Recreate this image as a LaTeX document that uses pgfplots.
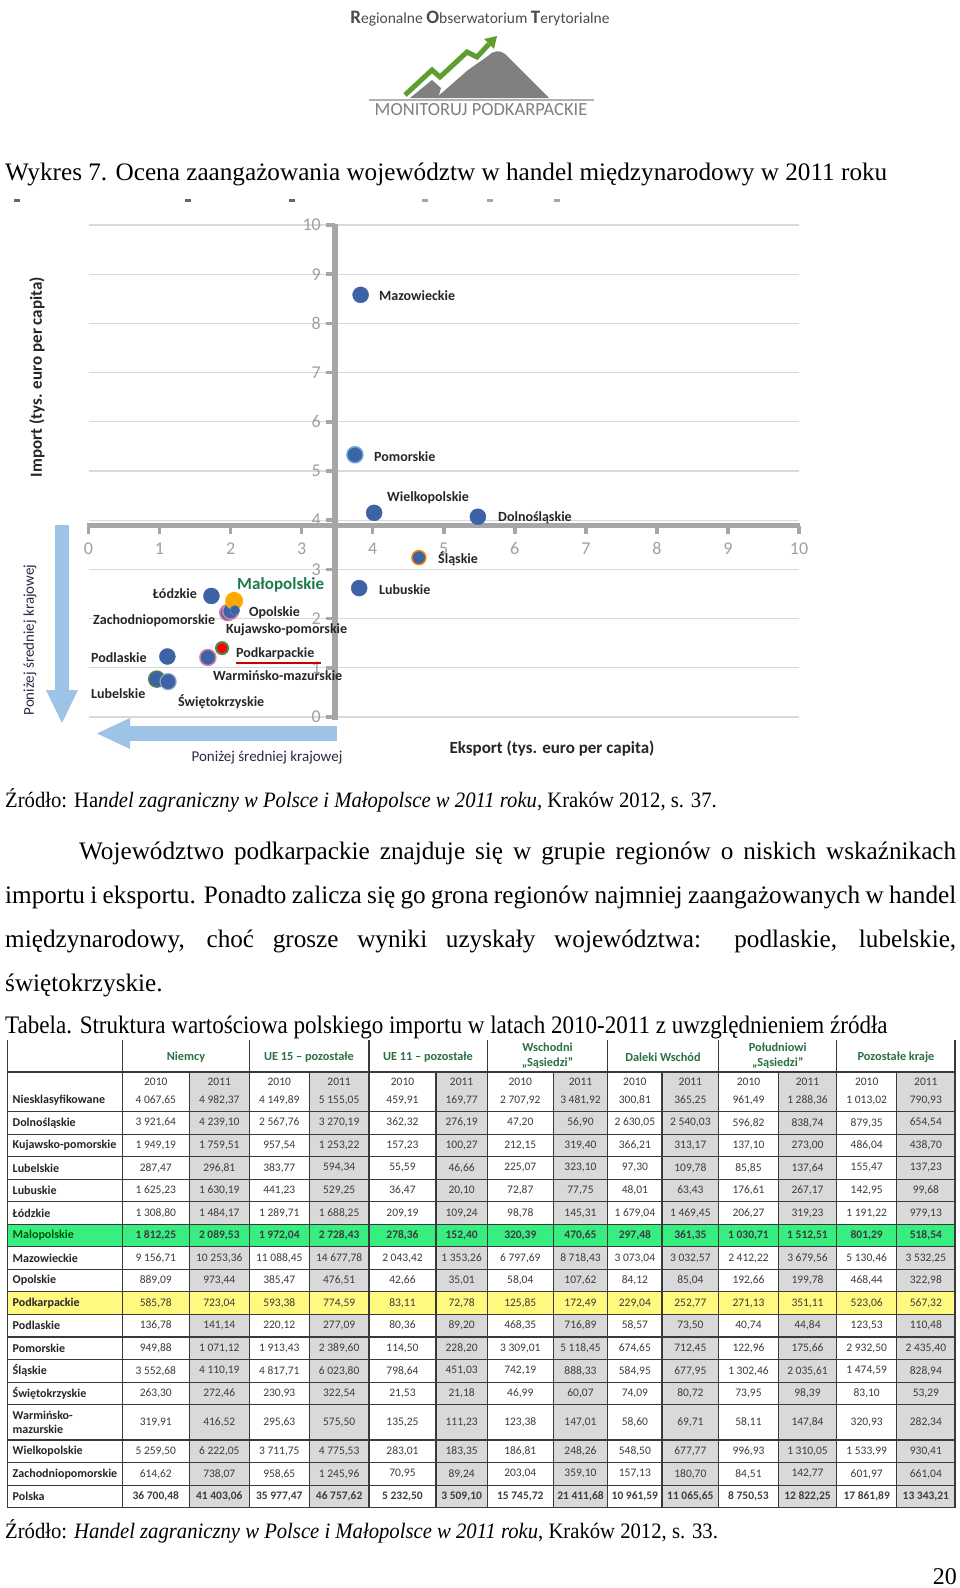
\documentclass[border=0pt]{standalone}
\usepackage{pgfplots}
\pgfplotsset{compat=1.18}
\usepackage{fontspec}
\setmainfont{Liberation Serif}
\newfontfamily\calfont{Carlito}
\newfontfamily\condserif[FakeStretch=0.915]{Liberation Serif}
\newfontfamily\srcserif[FakeStretch=0.94]{Liberation Serif}
\definecolor{ptblue}{HTML}{3B63A5}
\definecolor{gridgray}{HTML}{D9D9D9}
\definecolor{axgray}{HTML}{A6A6A6}
\definecolor{ticklab}{HTML}{A0A0A0}
\definecolor{arrowblue}{HTML}{9DC3E6}
\definecolor{mgreen}{HTML}{1F7A4A}
\definecolor{hdrgreen}{HTML}{2A7040}
\definecolor{rowgreen}{HTML}{38EE80}
\definecolor{rowyellow}{HTML}{FFF980}
\definecolor{cellgray}{HTML}{D9D9D9}
\definecolor{rulecol}{HTML}{3A3A3A}
\definecolor{numcol}{HTML}{3C3C3C}
\definecolor{labcol}{HTML}{262626}
\definecolor{logogray}{HTML}{808080}
\definecolor{logogreen}{HTML}{5E9E2E}
\definecolor{navytext}{HTML}{2A2A45}

\def\colb{{7.3,122.3,189.3,249.3,309.3,369,436,487.3,553.3,607.7,662,718.7,778.3,836.7,896.7,955}}
\newcommand\colcenter[1]{%
  \pgfmathsetmacro\xa{\colb[#1]}%
  \pgfmathsetmacro\xb{\colb[#1+1]}%
  \pgfmathsetmacro\cx{0.5*\xa+0.5*\xb}%
}

\newcommand\trow[6]{%
  \node[anchor=west, inner sep=0, align=left, text=#6,
        font=\calfont\bfseries\fontsize{12}{13.5}\selectfont] at (12.5,{-(#1+#2)/2}) {#3};
  \foreach \vv [count=\cc] in {#4} {%
    \colcenter{\cc}%
    \node[inner sep=0, text=numcol, font=\calfont\fontsize{11.5}{13}\selectfont#5] at (\cx,{-(#1+#2)/2}) {\vv};
  }%
}

\begin{document}
\begin{tikzpicture}[x=1pt,y=1pt]
\fill[white] (0,0) rectangle (960,-1588);
\path[use as bounding box] (0,0) rectangle (960,-1588);

% ---------- logo ----------
\node[text=black!70, font=\calfont\fontsize{15.5}{16}\selectfont] at (480,-19)
  {{\bfseries\fontsize{19}{19}\selectfont R}egionalne {\bfseries\fontsize{19}{19}\selectfont O}bserwatorium {\bfseries\fontsize{19}{19}\selectfont T}erytorialne};
\fill[logogray] (436,-98) -- (468,-70) -- (488,-56) .. controls (494,-50) and (500,-50) .. (505,-54) -- (525,-74) -- (549,-98) -- cycle;
\fill[logogray] (410,-98) -- (432,-80) -- (441,-88) -- (438,-98) -- cycle;
\draw[white, line width=8pt, line join=round] (405,-95) -- (432,-70) -- (440,-77) -- (467,-52) -- (477,-57) -- (490,-43);
\draw[logogreen, line width=5pt, line join=miter] (405,-95) -- (432,-70) -- (440,-77) -- (467,-52) -- (477,-57) -- (489,-44);
\fill[logogreen] (497,-36) -- (484,-39) -- (494,-49) -- cycle;
\draw[black!30, line width=2.5pt] (369,-100) -- (594,-100);
\node[text=logogray, font=\calfont\fontsize{18.5}{18.5}\selectfont] at (481,-110) {MONITORUJ PODKARPACKIE};

% ---------- caption ----------
\node[anchor=base west, inner sep=0, font=\fontsize{25.2}{30}\selectfont] at (5,-180)
  {Wykres 7. Ocena zaangażowania województw w handel międzynarodowy w 2011 roku};

\foreach \xx in {17,188,292} {\fill[black!60] (\xx-3,-199) rectangle (\xx+3,-202);}
\foreach \xx in {425,490,557} {\fill[black!35] (\xx-3,-199) rectangle (\xx+3,-201.5);}

% ---------- chart ----------
\begin{axis}[at={(88.5pt,-717pt)}, anchor=south west, scale only axis,
  width=710.5pt, height=492pt, xmin=0, xmax=10, ymin=0, ymax=10,
  axis line style={draw=none}, xtick=\empty, ytick={0,1,...,10}, yticklabels={},
  major tick length=0pt, ymajorgrids, grid style={line width=1.3pt, gridgray}, clip=false]
\draw[axgray, line width=6pt] (axis cs:3.47,-0.06) -- (axis cs:3.47,10.02);
\draw[axgray, line width=5.5pt] (axis cs:-0.02,3.89) -- (axis cs:10.02,3.89);
\pgfplotsinvokeforeach{0,...,10}{
  \draw[axgray, line width=3.5pt] (axis cs:3.47,#1) -- ++(-9pt,0pt);
  \draw[axgray, line width=3.5pt] (axis cs:#1,3.89) -- ++(0pt,-8pt);
  \node[anchor=east, inner sep=0, text=ticklab, font=\calfont\fontsize{18}{18}\selectfont] at ([xshift=-14pt]axis cs:3.47,#1) {#1};
  \node[inner sep=0, text=ticklab, font=\calfont\fontsize{18}{18}\selectfont] at ([yshift=-23pt]axis cs:#1,3.89) {#1};
}
\addplot[only marks, mark=*, mark size=8pt, mark options={fill=ptblue, draw=black!45!green!40!gray, line width=1.5pt}] coordinates {(0.96,0.77)};
\addplot[only marks, mark=*, mark size=8pt, mark options={fill=ptblue, draw=ptblue!60, line width=1.2pt}] coordinates {(1.12,0.72)};
\addplot[only marks, mark=*, mark size=8pt, mark options={fill=ptblue, draw=ptblue}] coordinates {
 (3.83,8.58) (4.02,4.15) (5.48,4.07) (3.81,2.62) (1.73,2.46) (1.11,1.23)};
\addplot[only marks, mark=*, mark size=8pt, mark options={fill=ptblue, draw=cyan!60!blue!60, line width=1.5pt}] coordinates {(3.75,5.33)};
\addplot[only marks, mark=*, mark size=7pt, mark options={fill=ptblue, draw=orange, line width=1.5pt}] coordinates {(4.65,3.24)};
\addplot[only marks, mark=*, mark size=8pt, mark options={fill=ptblue, draw=red!40!violet!50, line width=1.5pt}] coordinates {(1.68,1.21) (1.96,2.12) (2.00,2.15)};
\addplot[only marks, mark=*, mark size=8.5pt, mark options={fill=orange!70!yellow, draw=orange!60!yellow, line width=1pt}] coordinates {(2.05,2.36)};
\addplot[only marks, mark=*, mark size=5pt, mark options={fill=ptblue, draw=ptblue!70}] coordinates {(2.06,2.17)};
\addplot[only marks, mark=*, mark size=6pt, mark options={fill=red, draw=green!35!black!70, line width=2pt}] coordinates {(1.88,1.40)};
\end{axis}

\node[rotate=90, text=labcol, font=\calfont\bfseries\fontsize{17}{17}\selectfont] at (37,-377) {Import (tys. euro per capita)};
\node[text=labcol, font=\calfont\bfseries\fontsize{17}{17}\selectfont] at (552,-749) {Eksport (tys. euro per capita)};
\fill[arrowblue] (55,-525) rectangle (69,-692);
\fill[arrowblue] (46,-690) -- (78,-690) -- (62,-723) -- cycle;
\fill[arrowblue] (337,-726) rectangle (128,-741);
\fill[arrowblue] (130,-718) -- (130,-749) -- (97,-733.5) -- cycle;
\node[rotate=90, text=navytext, font=\calfont\fontsize{15}{15}\selectfont] at (30,-640) {Poniżej średniej krajowej};
\node[text=navytext, font=\calfont\fontsize{15}{15}\selectfont] at (267,-758) {Poniżej średniej krajowej};

\begin{scope}[every node/.style={inner sep=0, text=labcol, font=\calfont\bfseries\fontsize{14}{14}\selectfont}]
\node[anchor=west] at (379,-296) {Mazowieckie};
\node[anchor=west] at (374,-457) {Pomorskie};
\node[anchor=west] at (387,-498) {Wielkopolskie};
\node[anchor=west] at (498,-518) {Dolnośląskie};
\node[anchor=west] at (438,-559) {Śląskie};
\node[anchor=west] at (379,-590) {Lubuskie};
\node[anchor=east] at (197,-594) {Łódzkie};
\node[anchor=west, text=mgreen, font=\calfont\bfseries\fontsize{17}{17}\selectfont] at (237,-585) {Małopolskie};
\node[anchor=west] at (249,-613) {Opolskie};
\node[anchor=west] at (93,-621) {Zachodniopomorskie};
\node[anchor=west] at (226,-630) {Kujawsko-pomorskie};
\node[anchor=west] at (91,-658) {Podlaskie};
\node[anchor=west] at (236,-654) {Podkarpackie};
\node[anchor=west] at (213,-676) {Warmińsko-mazurskie};
\node[anchor=west] at (91,-694) {Lubelskie};
\node[anchor=west] at (178,-702) {Świętokrzyskie};
\end{scope}
\draw[red!80!black, line width=1.5pt] (236,-663) -- (321,-663);

% ---------- source & paragraph ----------
\node[anchor=base west, inner sep=0, font=\srcserif\fontsize{22}{24}\selectfont] at (5,-807)
  {Źródło: Ha\textit{ndel zagraniczny w Polsce i Małopolsce w 2011 roku}, Kraków 2012, s. 37.};
\node[anchor=north west, inner sep=0, text width=951pt, align=justify, font=\fontsize{25.2}{44}\selectfont] at (5,-828.2)
  {\hspace*{74pt}\strut Województwo podkarpackie znajduje się w grupie regionów o niskich wskaźnikach\linebreak
   importu i eksportu. Ponadto zalicza się go grona regionów najmniej zaangażowanych w handel\linebreak
   międzynarodowy, choć grosze wyniki uzyskały województwa: podlaskie, lubelskie,\linebreak
   świętokrzyskie.};
\node[anchor=base west, inner sep=0, font=\condserif\fontsize{25.2}{30}\selectfont] at (5,-1033)
  {Tabela. Struktura wartościowa polskiego importu w latach 2010-2011 z uwzględnieniem źródła};

% ---------- table ----------
\foreach \k in {2,4,...,14} {
  \colcenter{\k}
  \fill[cellgray] (\xa,-1072) rectangle (\xb,-1507.7);
}
\fill[rowgreen] (7.3,-1224.3) rectangle (955,-1246.8);
\fill[rowyellow] (7.3,-1291.9) rectangle (955,-1314.5);
\begin{scope}[rulecol, line width=1.1pt]
\foreach \yy in {1072,1111.5,1134.1,1156.6,1179.2,1201.7,1224.3,1246.8,1269.4,1291.9,1314.5,1337,1359.6,1382.1,1404.7,1440,1462.6,1485.1,1507.7}
  {\draw (7.3,-\yy) -- (955,-\yy);}
\foreach \xx in {7.3,122.3,249.3,369,487.3,607.7,718.7,836.7,955}
  {\draw (\xx,-1040) -- (\xx,-1507.7);}
\foreach \xx in {189.3,309.3,436,553.3,662,778.3,896.7}
  {\draw (\xx,-1072) -- (\xx,-1507.7);}
\end{scope}
\begin{scope}[every node/.style={inner sep=0, align=center, text=hdrgreen, font=\calfont\bfseries\fontsize{12.3}{15}\selectfont}]
\node at (186,-1057) {Niemcy};
\node at (309,-1057) {UE 15 – pozostałe};
\node at (428,-1057) {UE 11 – pozostałe};
\node at (547.5,-1056) {Wschodni\\„Sąsiedzi”};
\node at (663,-1057) {Daleki Wschód};
\node at (777.7,-1056) {Południowi\\„Sąsiedzi”};
\node at (896,-1057) {Pozostałe kraje};
\end{scope}
\foreach \k/\yr in {1/2010,2/2011,3/2010,4/2011,5/2010,6/2011,7/2010,8/2011,9/2010,10/2011,11/2010,12/2011,13/2010,14/2011} {
  \colcenter{\k}
  \node[inner sep=0, text=numcol, font=\calfont\fontsize{11.5}{13}\selectfont] at (\cx,-1081.5) {\yr};
}
\trow{1089}{1111.5}{Niesklasyfikowane}{{4 067,65},{4 982,37},{4 149,89},{5 155,05},{459,91},{169,77},{2 707,92},{3 481,92},{300,81},{365,25},{961,49},{1 288,36},{1 013,02},{790,93}}{}{labcol}
\trow{1111.5}{1134.1}{Dolnośląskie}{{3 921,64},{4 239,10},{2 567,76},{3 270,19},{362,32},{276,19},{47,20},{56,90},{2 630,05},{2 540,03},{596,82},{838,74},{879,35},{654,54}}{}{labcol}
\trow{1134.1}{1156.6}{Kujawsko-pomorskie}{{1 949,19},{1 759,51},{957,54},{1 253,22},{157,23},{100,27},{212,15},{319,40},{366,21},{313,17},{137,10},{273,00},{486,04},{438,70}}{}{labcol}
\trow{1156.6}{1179.2}{Lubelskie}{{287,47},{296,81},{383,77},{594,34},{55,59},{46,66},{225,07},{323,10},{97,30},{109,78},{85,85},{137,64},{155,47},{137,23}}{}{labcol}
\trow{1179.2}{1201.7}{Lubuskie}{{1 625,23},{1 630,19},{441,23},{529,25},{36,47},{20,10},{72,87},{77,75},{48,01},{63,43},{176,61},{267,17},{142,95},{99,68}}{}{labcol}
\trow{1201.7}{1224.3}{Łódzkie}{{1 308,80},{1 484,17},{1 289,71},{1 688,25},{209,19},{109,24},{98,78},{145,31},{1 679,04},{1 469,45},{206,27},{319,23},{1 191,22},{979,13}}{}{labcol}
\trow{1224.3}{1246.8}{Malopolskie}{{1 812,25},{2 089,53},{1 972,04},{2 728,43},{278,36},{152,40},{320,39},{470,65},{297,48},{361,35},{1 030,71},{1 512,51},{801,29},{518,54}}{\bfseries}{green!35!black}
\trow{1246.8}{1269.4}{Mazowieckie}{{9 156,71},{10 253,36},{11 088,45},{14 677,78},{2 043,42},{1 353,26},{6 797,69},{8 718,43},{3 073,04},{3 032,57},{2 412,22},{3 679,56},{5 130,46},{3 532,25}}{}{labcol}
\trow{1269.4}{1291.9}{Opolskie}{{889,09},{973,44},{385,47},{476,51},{42,66},{35,01},{58,04},{107,62},{84,12},{85,04},{192,66},{199,78},{468,44},{322,98}}{}{labcol}
\trow{1291.9}{1314.5}{Podkarpackie}{{585,78},{723,04},{593,38},{774,59},{83,11},{72,78},{125,85},{172,49},{229,04},{252,77},{271,13},{351,11},{523,06},{567,32}}{}{labcol}
\trow{1314.5}{1337}{Podlaskie}{{136,78},{141,14},{220,12},{277,09},{80,36},{89,20},{468,35},{716,89},{58,57},{73,50},{40,74},{44,84},{123,53},{110,48}}{}{labcol}
\trow{1337}{1359.6}{Pomorskie}{{949,88},{1 071,12},{1 913,43},{2 389,60},{114,50},{228,20},{3 309,01},{5 118,45},{674,65},{712,45},{122,96},{175,66},{2 932,50},{2 435,40}}{}{labcol}
\trow{1359.6}{1382.1}{Śląskie}{{3 552,68},{4 110,19},{4 817,71},{6 023,80},{798,64},{451,03},{742,19},{888,33},{584,95},{677,95},{1 302,46},{2 035,61},{1 474,59},{828,94}}{}{labcol}
\trow{1382.1}{1404.7}{Świętokrzyskie}{{263,30},{272,46},{230,93},{322,54},{21,53},{21,18},{46,99},{60,07},{74,09},{80,72},{73,95},{98,39},{83,10},{53,29}}{}{labcol}
\trow{1404.7}{1440}{Warmińsko-\\mazurskie}{{319,91},{416,52},{295,63},{575,50},{135,25},{111,23},{123,38},{147,01},{58,60},{69,71},{58,11},{147,84},{320,93},{282,34}}{}{labcol}
\trow{1440}{1462.6}{Wielkopolskie}{{5 259,50},{6 222,05},{3 711,75},{4 775,53},{283,01},{183,35},{186,81},{248,26},{548,50},{677,77},{996,93},{1 310,05},{1 533,99},{930,41}}{}{labcol}
\trow{1462.6}{1485.1}{Zachodniopomorskie}{{614,62},{738,07},{958,65},{1 245,96},{70,95},{89,24},{203,04},{359,10},{157,13},{180,70},{84,51},{142,77},{601,97},{661,04}}{}{labcol}
\trow{1485.1}{1507.7}{Polska}{{36 700,48},{41 403,06},{35 977,47},{46 757,62},{5 232,50},{3 509,10},{15 745,72},{21 411,68},{10 961,59},{11 065,65},{8 750,53},{12 822,25},{17 861,89},{13 343,21}}{\bfseries}{labcol}

% ---------- bottom ----------
\node[anchor=base west, inner sep=0, font=\srcserif\fontsize{22}{24}\selectfont] at (5,-1538)
  {Źródło: \textit{Handel zagraniczny w Polsce i Małopolsce w 2011 roku}, Kraków 2012, s. 33.};
\node[anchor=base east, inner sep=0, font=\fontsize{24}{24}\selectfont] at (957,-1584) {20};
\end{tikzpicture}
\end{document}
